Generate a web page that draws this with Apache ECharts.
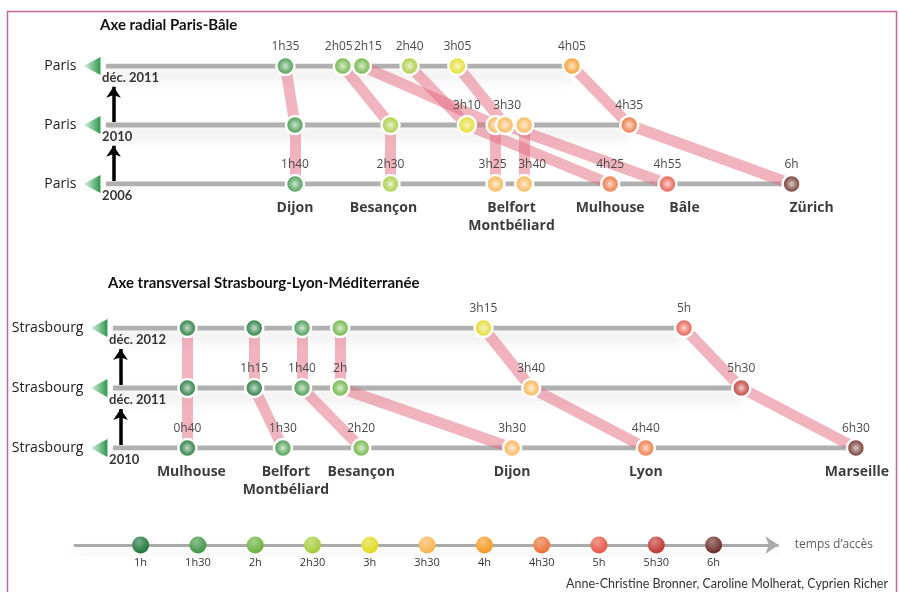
<!DOCTYPE html>
<html>
<head>
<meta charset="utf-8">
<script src="https://cdn.jsdelivr.net/npm/echarts@6/dist/echarts.min.js"></script>
<style>
html, body { margin: 0; padding: 0; background: #fff; }
#main { width: 899px; height: 592px; }
</style>
</head>
<body>
<div id="main"></div>
<script>
// Axe radial Paris-Bâle : temps d'accès (minutes) par année, de haut en bas
var parisOrigin = 'Paris';
var parisYears = ['déc. 2011', '2010', '2006'];
var paris2011 = [95, 125, 135, 160, 185, 245];
var paris2011Labels = ['1h35', '2h05', '2h15', '2h40', '3h05', '4h05'];
var paris2010 = [100, 150, 190, 205, 220, 210, 275];
var paris2010Labels = ['', '', '3h10', '', '', '3h30', '4h35'];
var paris2006 = [100, 150, 205, 220, 265, 295, 360];
var paris2006Labels = ['1h40', '2h30', '3h25', '3h40', '4h25', '4h55', '6h'];
var parisCities = ['Dijon', 'Besançon', 'Belfort\nMontbéliard', '', 'Mulhouse', 'Bâle', 'Zürich'];
// liaisons [indice ligne du haut, indice ligne du bas]
var parisLinks2011 = [[0, 0], [1, 1], [2, 3], [3, 2], [4, 5], [5, 6]];
var parisLinks2010 = [[0, 0], [1, 1], [3, 2], [4, 3], [2, 4], [5, 5], [6, 6]];

// Axe transversal Strasbourg-Lyon-Méditerranée
var strOrigin = 'Strasbourg';
var strYears = ['déc. 2012', 'déc. 2011', '2010'];
var str2012 = [40, 75, 100, 120, 195, 300];
var str2012Labels = ['', '', '', '', '3h15', '5h'];
var str2011 = [40, 75, 100, 120, 220, 330];
var str2011Labels = ['', '1h15', '1h40', '2h', '3h40', '5h30'];
var str2010 = [40, 90, 131, 210, 280, 390];
var str2010Labels = ['0h40', '1h30', '2h20', '3h30', '4h40', '6h30'];
var strCities = ['Mulhouse', 'Belfort\nMontbéliard', 'Besançon', 'Dijon', 'Lyon', 'Marseille'];
var strLinks2012 = [[0, 0], [1, 1], [2, 2], [3, 3], [4, 4], [5, 5]];
var strLinks2011 = [[0, 0], [1, 1], [2, 2], [3, 3], [4, 4], [5, 5]];

// légende
var legendTimes = [60, 90, 120, 150, 180, 210, 240, 270, 300, 330, 360];
var legendLabels = ['1h', '1h30', '2h', '2h30', '3h', '3h30', '4h', '4h30', '5h', '5h30', '6h'];
var legendColors = ['#1b7436', '#3c9645', '#66b03a', '#a5c935', '#e0db1c', '#fbb24c',
                    '#f6981f', '#ec6f36', '#e75443', '#bf342e', '#6a2b25'];

var S = 1.91; // px par minute
var T0 = -50, T1 = 400;

function mix(hex, k) {
    var n = parseInt(hex.slice(1), 16);
    var r = (n >> 16) & 255, g = (n >> 8) & 255, b = n & 255;
    r = Math.round(r + (255 - r) * k);
    g = Math.round(g + (255 - g) * k);
    b = Math.round(b + (255 - b) * k);
    return 'rgb(' + r + ',' + g + ',' + b + ')';
}
function timeColor(t) {
    var i = Math.round((t - 60) / 30 - 0.2);
    i = Math.max(0, Math.min(legendColors.length - 1, i));
    return legendColors[i];
}
function ball(c) {
    return new echarts.graphic.RadialGradient(0.5, 0.5, 0.5, [
        { offset: 0, color: mix(c, 0.75) },
        { offset: 0.5, color: mix(c, 0.3) },
        { offset: 1, color: c }
    ]);
}
function legendBall(c) {
    return new echarts.graphic.RadialGradient(0.4, 0.3, 0.7, [
        { offset: 0, color: mix(c, 0.4) },
        { offset: 1, color: c }
    ]);
}

var txt = 'Open Sans';
var bold = 'Lato';

function section(idx, origin, years, rows, labels, cities, links, labelDx, nameDx) {
    var out = [];
    var ax = { xAxisIndex: idx, yAxisIndex: idx, silent: true };
    var ys = [2, 1, 0];

    // voies grises
    rows.forEach(function (r, k) {
        out.push(Object.assign({
            type: 'line', symbol: 'none', z: 1,
            data: [[1, ys[k]], [Math.max.apply(null, r), ys[k]]],
            lineStyle: { color: '#b0b0b0', width: 5, shadowColor: 'rgba(0,0,0,0.16)', shadowBlur: 14, shadowOffsetY: 9 }
        }, ax));
    });

    // bandes roses
    var linkData = [];
    links.forEach(function (pairs, k) {
        pairs.forEach(function (p) {
            linkData.push({ coords: [[rows[k][p[0]], ys[k]], [rows[k + 1][p[1]], ys[k + 1]]] });
        });
    });
    out.push(Object.assign({
        type: 'lines', coordinateSystem: 'cartesian2d', z: 2,
        lineStyle: { color: '#e4677d', width: 11, opacity: 0.5, curveness: 0 },
        data: linkData
    }, ax));

    // gares
    rows.forEach(function (r, k) {
        out.push(Object.assign({
            type: 'scatter', z: 3, symbolSize: 18,
            itemStyle: { borderColor: '#fff', borderWidth: 2.5, opacity: 1 },
            label: { show: true, position: 'top', distance: 3, formatter: '{b}', color: '#4a4a4a', fontSize: 12, fontFamily: txt },
            data: r.map(function (t, i) {
                return { name: labels[k][i], value: [t, ys[k]], itemStyle: { color: ball(timeColor(t)) },
                         label: { offset: [labelDx[k][i] || 0, 0] } };
            })
        }, ax));
    });

    // noms des villes
    var last = rows[2];
    out.push(Object.assign({
        type: 'scatter', z: 4, symbolSize: 0,
        label: { show: true, position: 'bottom', distance: 15, formatter: '{b}', color: '#0a0a0a', fontSize: 14,
                 fontWeight: 'bold', fontFamily: txt, lineHeight: 18 },
        data: last.map(function (t, i) {
            return { name: cities[i], value: [t, 0], label: { offset: [nameDx[i], 0] } };
        })
    }, ax));

    // origine : triangle + nom
    out.push(Object.assign({
        type: 'scatter', z: 3, symbol: 'triangle', symbolRotate: 90, symbolSize: [18, 17],
        itemStyle: { opacity: 1, color: new echarts.graphic.LinearGradient(0, 0, 0, 1, [
            { offset: 0, color: '#e4f2e6' }, { offset: 1, color: '#2a984a' }]) },
        label: { show: true, position: 'left', distance: 7, formatter: '{b}', color: '#1a1a1a', fontSize: 14, fontFamily: txt },
        data: ys.map(function (y) { return { name: origin, value: [-6.3, y] }; })
    }, ax));

    // années
    out.push(Object.assign({
        type: 'scatter', z: 4, symbolSize: 0,
        label: { show: true, position: 'right', distance: 0, offset: [0, 12], formatter: '{b}', color: '#000',
                 fontSize: 13, fontWeight: 'bold', fontFamily: bold },
        data: ys.map(function (y, k) { return { name: years[k], value: [-1, y] }; })
    }, ax));

    // flèches noires
    out.push(Object.assign({
        type: 'lines', coordinateSystem: 'cartesian2d', z: 4,
        symbol: ['none', 'arrow'], symbolSize: 11,
        lineStyle: { color: '#000', width: 3.5, opacity: 1 },
        data: [{ coords: [[5, 1.05], [5, 1.65]] }, { coords: [[5, 0.05], [5, 0.65]] }]
    }, ax));

    return out;
}

var series = []
    .concat(section(0, parisOrigin, parisYears, [paris2011, paris2010, paris2006],
        [paris2011Labels, paris2010Labels, paris2006Labels], parisCities,
        [parisLinks2011, parisLinks2010],
        [[0, -4, 6, 0, 0, 0], [0, 0, 0, 0, 0, 2, 0], [0, 0, -3, 8, 0, 0, 0]],
        [0, -7, 16, 0, 0, 17, 20]))
    .concat(section(1, strOrigin, strYears, [str2012, str2011, str2010],
        [str2012Labels, str2011Labels, str2010Labels], strCities,
        [strLinks2012, strLinks2011],
        [[], [], []],
        [4, 3, 0, 0, 0, 1]));

// légende
series.push({
    type: 'lines', coordinateSystem: 'cartesian2d', xAxisIndex: 2, yAxisIndex: 2, silent: true, z: 1,
    symbol: ['none', 'arrow'], symbolSize: [11, 13],
    lineStyle: { color: '#aaaaaa', width: 3, opacity: 1, shadowColor: 'rgba(0,0,0,0.12)', shadowBlur: 14, shadowOffsetY: 9 },
    data: [{ coords: [[25, 0], [394, 0]] }]
});
series.push({
    type: 'scatter', xAxisIndex: 2, yAxisIndex: 2, silent: true, z: 3, symbolSize: 17,
    itemStyle: { opacity: 1 },
    label: { show: true, position: 'bottom', distance: 4, formatter: '{b}', color: '#333', fontSize: 11, fontFamily: txt },
    data: legendTimes.map(function (t, i) {
        return { name: legendLabels[i], value: [t, 0], itemStyle: { color: legendBall(legendColors[i]) } };
    })
});
series.push({
    type: 'scatter', xAxisIndex: 2, yAxisIndex: 2, silent: true, symbolSize: 0,
    label: { show: true, position: 'right', distance: 0, formatter: '{b}', color: '#333', fontSize: 12, fontFamily: txt },
    data: [{ name: 'temps d\u2019accès', value: [402.5, 0] }]
});

var myChart = echarts.init(document.getElementById('main'));
myChart.setOption({
    backgroundColor: '#fff',
    animation: false,
    title: [
        { text: 'Axe radial Paris-Bâle', left: 100, top: 18, padding: 0,
          textStyle: { fontFamily: bold, fontWeight: 'bold', fontSize: 15, color: '#111' } },
        { text: 'Axe transversal Strasbourg-Lyon-Méditerranée', left: 108, top: 276, padding: 0,
          textStyle: { fontFamily: bold, fontWeight: 'bold', fontSize: 15, color: '#111' } },
        { text: 'Anne-Christine Bronner, Caroline Molherat, Cyprien Richer', right: 11, top: 577, padding: 0,
          textStyle: { fontFamily: 'Lato', fontWeight: 'normal', fontSize: 12.5, color: '#333' } }
    ],
    graphic: [{
        type: 'rect', silent: true, z: 0,
        shape: { x: 7.5, y: 11.5, width: 889, height: 620 },
        style: { fill: 'none', stroke: '#c9649a', lineWidth: 1.5 }
    }],
    grid: [
        { left: 104 + T0 * S, top: 66, width: (T1 - T0) * S, height: 118 },
        { left: 111 + T0 * S, top: 328, width: (T1 - T0) * S, height: 120 },
        { left: 26, top: 535, width: 450 * S, height: 20 }
    ],
    xAxis: [
        { type: 'value', gridIndex: 0, min: T0, max: T1, show: false },
        { type: 'value', gridIndex: 1, min: T0, max: T1, show: false },
        { type: 'value', gridIndex: 2, min: 0, max: 450, show: false }
    ],
    yAxis: [
        { type: 'value', gridIndex: 0, min: 0, max: 2, show: false },
        { type: 'value', gridIndex: 1, min: 0, max: 2, show: false },
        { type: 'value', gridIndex: 2, min: -1, max: 1, show: false }
    ],
    series: series
});
</script>
</body>
</html>
